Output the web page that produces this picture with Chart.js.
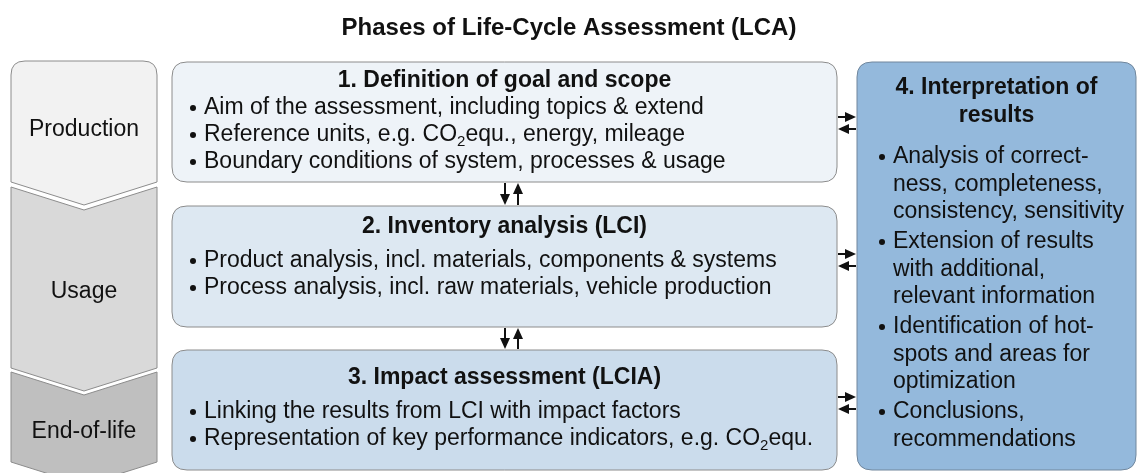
<!DOCTYPE html>
<html>
<head>
<meta charset="utf-8">
<script src="https://cdn.jsdelivr.net/npm/chart.js@4/dist/chart.umd.min.js"></script>
<style>
  html, body { margin: 0; padding: 0; background: #fff; }
</style>
</head>
<body>
<canvas id="lca" width="1138" height="473"></canvas>
<script>
// ---- content ----
const chartTitle = 'Phases of Life-Cycle Assessment (LCA)';
const phaseLabels = ['Production', 'Usage', 'End-of-life'];
const stepTitles = ['1. Definition of goal and scope', '2. Inventory analysis (LCI)', '3. Impact assessment (LCIA)'];
const stepBullets = [
    ['Aim of the assessment, including topics & extend',
     'Reference units, e.g. CO_2equ., energy, mileage',
     'Boundary conditions of system, processes & usage'],
    ['Product analysis, incl. materials, components & systems',
     'Process analysis, incl. raw materials, vehicle production'],
    ['Linking the results from LCI with impact factors',
     'Representation of key performance indicators, e.g. CO_2equ.']
];
const interpretationTitle = ['4. Interpretation of', 'results'];
const interpretationBullets = [
    ['Analysis of correct-', 'ness, completeness,', 'consistency, sensitivity'],
    ['Extension of results', 'with additional,', 'relevant information'],
    ['Identification of hot-', 'spots and areas for', 'optimization'],
    ['Conclusions,', 'recommendations']
];

// ---- layout (in scale units) ----
const layout = {
    phaseX: [11, 157],
    phaseBands: [[61, 182], [187, 368], [372, 462]],
    chevronDepth: 23,
    phaseLabelY: [130, 292, 432],
    stepX: [172, 837],
    stepBands: [[62, 182], [206, 327], [350, 470]],
    stepTitleY: [81, 227, 378],
    stepFirstLineY: [108, 261, 412],
    lineStep: 27,
    bulletX: 193,
    textX: 204,
    interpX: [857, 1136],
    interpY: [62, 470],
    interpTitleY: [88, 116],
    interpBulletY: [157, 242, 327, 412],
    interpLineStep: 27.5,
    interpBulletX: 882,
    interpTextX: 893,
    vArrowX: [505, 518],
    hArrowX: [838, 856],
    hArrowY: [[117, 129], [254, 266], [397, 409]],
    radius: 15
};

const phaseFills = ['#f2f2f2', '#d9d9d9', '#bfbfbf'];
const stepFills = ['#eef3f8', '#dde8f2', '#cbdcec'];
const interpFill = '#94b9dc';
const FONT = '"Liberation Sans", Arial, sans-serif';
const SIZE = 23;

function roundRect(ctx, x0, y0, x1, y1, r) {
    ctx.beginPath();
    ctx.moveTo(x0 + r, y0);
    ctx.lineTo(x1 - r, y0);
    ctx.quadraticCurveTo(x1, y0, x1, y0 + r);
    ctx.lineTo(x1, y1 - r);
    ctx.quadraticCurveTo(x1, y1, x1 - r, y1);
    ctx.lineTo(x0 + r, y1);
    ctx.quadraticCurveTo(x0, y1, x0, y1 - r);
    ctx.lineTo(x0, y0 + r);
    ctx.quadraticCurveTo(x0, y0, x0 + r, y0);
    ctx.closePath();
}

// text with "_2" style subscripts
function drawRich(ctx, text, x, y, size) {
    let parts = text.split('_');
    let cx = x;
    parts.forEach((p, i) => {
        if (i > 0) {
            ctx.font = Math.round(size * 0.65) + 'px ' + FONT;
            ctx.fillText(p[0], cx, y + size * 0.3);
            cx += ctx.measureText(p[0]).width;
            p = p.slice(1);
        }
        ctx.font = size + 'px ' + FONT;
        ctx.fillText(p, cx, y);
        cx += ctx.measureText(p).width;
    });
}

function bullet(ctx, x, y) {
    ctx.beginPath();
    ctx.arc(x, y, 3, 0, Math.PI * 2);
    ctx.fill();
}

function arrow(ctx, x0, y0, x1, y1) {
    let ang = Math.atan2(y1 - y0, x1 - x0);
    let len = 11, half = 5;
    let bx = x1 - len * Math.cos(ang), by = y1 - len * Math.sin(ang);
    ctx.beginPath();
    ctx.moveTo(x0, y0);
    ctx.lineTo(bx, by);
    ctx.stroke();
    ctx.beginPath();
    ctx.moveTo(x1, y1);
    ctx.lineTo(bx - half * Math.sin(ang), by + half * Math.cos(ang));
    ctx.lineTo(bx + half * Math.sin(ang), by - half * Math.cos(ang));
    ctx.closePath();
    ctx.fill();
}

const diagramPlugin = {
    id: 'lcaDiagram',
    afterDraw(chart) {
        let ctx = chart.ctx;
        let xs = chart.scales.x, ys = chart.scales.y;
        let px = v => xs.getPixelForValue(v);
        let py = v => ys.getPixelForValue(v);
        ctx.save();

        // phase chevrons
        let [l, r] = layout.phaseX.map(px);
        let mid = (l + r) / 2;
        let d = layout.chevronDepth;
        layout.phaseBands.forEach((band, i) => {
            let top = py(band[0]), bot = py(band[1]);
            let dd = py(band[1] + d) - bot;
            ctx.beginPath();
            if (i === 0) {
                let rr = 14;
                ctx.moveTo(l, bot);
                ctx.lineTo(l, top + rr);
                ctx.quadraticCurveTo(l, top, l + rr, top);
                ctx.lineTo(r - rr, top);
                ctx.quadraticCurveTo(r, top, r, top + rr);
            } else {
                ctx.moveTo(l, bot);
                ctx.lineTo(l, top);
                ctx.lineTo(mid, top + dd);
                ctx.lineTo(r, top);
            }
            ctx.lineTo(r, bot);
            ctx.lineTo(mid, bot + dd);
            ctx.closePath();
            ctx.fillStyle = phaseFills[i];
            ctx.fill();
            ctx.strokeStyle = '#8c8c8c';
            ctx.lineWidth = 1;
            ctx.stroke();

            ctx.fillStyle = '#111';
            ctx.font = SIZE + 'px ' + FONT;
            ctx.textAlign = 'center';
            ctx.textBaseline = 'middle';
            ctx.fillText(phaseLabels[i], mid, py(layout.phaseLabelY[i]));
        });

        // step boxes
        let [sl, sr] = layout.stepX.map(px);
        layout.stepBands.forEach((band, i) => {
            roundRect(ctx, sl, py(band[0]), sr, py(band[1]), layout.radius);
            ctx.fillStyle = stepFills[i];
            ctx.fill();
            ctx.strokeStyle = '#8c8c8c';
            ctx.lineWidth = 1;
            ctx.stroke();

            ctx.fillStyle = '#111';
            ctx.textBaseline = 'middle';
            ctx.textAlign = 'center';
            ctx.font = 'bold ' + SIZE + 'px ' + FONT;
            ctx.fillText(stepTitles[i], (sl + sr) / 2, py(layout.stepTitleY[i]));
            ctx.textAlign = 'left';
            stepBullets[i].forEach((line, j) => {
                let y = py(layout.stepFirstLineY[i] + j * layout.lineStep);
                bullet(ctx, px(layout.bulletX), y);
                drawRich(ctx, line, px(layout.textX), y, SIZE);
            });
        });

        // interpretation box
        let [il, ir] = layout.interpX.map(px);
        roundRect(ctx, il, py(layout.interpY[0]), ir, py(layout.interpY[1]), layout.radius);
        ctx.fillStyle = interpFill;
        ctx.fill();
        ctx.strokeStyle = '#70869c';
        ctx.stroke();
        ctx.fillStyle = '#111';
        ctx.textAlign = 'center';
        ctx.font = 'bold ' + SIZE + 'px ' + FONT;
        interpretationTitle.forEach((t, j) => {
            ctx.fillText(t, (il + ir) / 2, py(layout.interpTitleY[j]));
        });
        ctx.textAlign = 'left';
        ctx.font = SIZE + 'px ' + FONT;
        interpretationBullets.forEach((lines, k) => {
            lines.forEach((line, j) => {
                let y = py(layout.interpBulletY[k] + j * layout.interpLineStep);
                if (j === 0) bullet(ctx, px(layout.interpBulletX), y);
                ctx.fillText(line, px(layout.interpTextX), y);
            });
        });

        // arrows
        ctx.strokeStyle = '#111';
        ctx.fillStyle = '#111';
        ctx.lineWidth = 2;
        let [dx, ux] = layout.vArrowX.map(px);
        for (let i = 0; i < layout.stepBands.length - 1; i++) {
            let y0 = py(layout.stepBands[i][1]) + 1;
            let y1 = py(layout.stepBands[i + 1][0]) - 1;
            arrow(ctx, dx, y0, dx, y1);
            arrow(ctx, ux, y1, ux, y0);
        }
        let [ax0, ax1] = layout.hArrowX.map(px);
        layout.hArrowY.forEach(pair => {
            arrow(ctx, ax0, py(pair[0]), ax1, py(pair[0]));
            arrow(ctx, ax1, py(pair[1]), ax0, py(pair[1]));
        });

        ctx.restore();
    }
};

Chart.defaults.font.family = FONT;

new Chart(document.getElementById('lca'), {
    type: 'scatter',
    data: { datasets: [] },
    options: {
        responsive: false,
        animation: false,
        layout: { padding: 0 },
        plugins: {
            legend: { display: false },
            tooltip: { enabled: false },
            title: {
                display: true,
                text: chartTitle,
                color: '#111',
                font: { size: 24, weight: 'bold', lineHeight: '26px' },
                padding: { top: 15, bottom: 9 }
            }
        },
        scales: {
            x: { type: 'linear', min: 0, max: 1138, display: false },
            y: { type: 'linear', min: 50, max: 473, reverse: true, display: false }
        }
    },
    plugins: [diagramPlugin]
});
</script>
</body>
</html>
